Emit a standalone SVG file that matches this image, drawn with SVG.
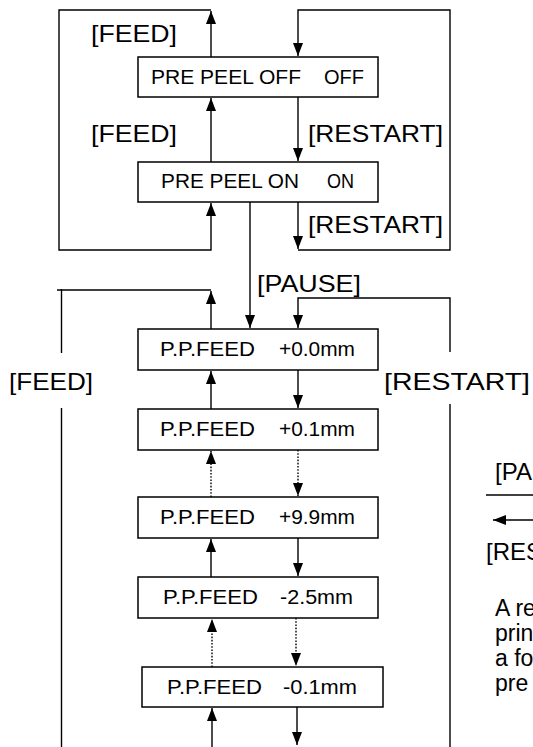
<svg xmlns="http://www.w3.org/2000/svg" width="533" height="747" viewBox="0 0 533 747">
<style>
text{font-family:"Liberation Sans",Arial,sans-serif;fill:#000}
.box{fill:#fff;stroke:#000;stroke-width:1.5}
.bt{font-size:20px}
.lb{font-size:24px}
.lg{font-size:23px}
.ln{fill:none;stroke:#000;stroke-width:1.4}
.dot{stroke-dasharray:1.6 1.6}
</style>
<defs>
<marker id="ah" markerUnits="userSpaceOnUse" markerWidth="14" markerHeight="11" refX="13" refY="5" orient="auto">
<path d="M0,0 L13,5 L0,10 z" fill="#000"/>
</marker>
</defs>
<rect width="533" height="747" fill="#fff"/>
<g id="connectors">
<path class="ln" d="M211,57 V11" marker-end="url(#ah)"/>
<path class="ln" d="M211,10 H59 V250 H211 V203" marker-end="url(#ah)"/>
<path class="ln" d="M211,162 V98" marker-end="url(#ah)"/>
<path class="ln" d="M298,97 V161" marker-end="url(#ah)"/>
<path class="ln" d="M298,202 V249" marker-end="url(#ah)"/>
<path class="ln" d="M298,250 H450 V10 H298 V56" marker-end="url(#ah)"/>
<path class="ln" d="M250,202 V328" marker-end="url(#ah)"/>
<path class="ln" d="M211,329 V291" marker-end="url(#ah)"/>
<path class="ln" d="M211,290 H57"/>
<path class="ln" d="M61.5,289 V353"/>
<path class="ln" d="M61.5,408 V747"/>
<path class="ln" d="M450,352 V298 H298 V328" marker-end="url(#ah)"/>
<path class="ln" d="M450,404 V747"/>
<path class="ln" d="M298,370 V408" marker-end="url(#ah)"/>
<path class="ln" d="M211,409 V371" marker-end="url(#ah)"/>
<path class="ln dot" d="M298,450 V496" marker-end="url(#ah)"/>
<path class="ln dot" d="M211,497 V451" marker-end="url(#ah)"/>
<path class="ln" d="M298,538 V576" marker-end="url(#ah)"/>
<path class="ln" d="M211,577 V539" marker-end="url(#ah)"/>
<path class="ln dot" d="M296,618 V666" marker-end="url(#ah)"/>
<path class="ln dot" d="M212,667 V619" marker-end="url(#ah)"/>
<path class="ln" d="M212,747 V708" marker-end="url(#ah)"/>
<path class="ln" d="M297,707 V745" marker-end="url(#ah)"/>
<path class="ln" d="M486,495 H533"/>
<path class="ln" d="M533,520 H493" marker-end="url(#ah)"/>
</g>
<g id="labels">
<text class="lb" x="91" y="42" textLength="86" lengthAdjust="spacingAndGlyphs">[FEED]</text>
<text class="lb" x="91" y="142" textLength="86" lengthAdjust="spacingAndGlyphs">[FEED]</text>
<text class="lb" x="308" y="142" textLength="135" lengthAdjust="spacingAndGlyphs">[RESTART]</text>
<text class="lb" x="308" y="233" textLength="135" lengthAdjust="spacingAndGlyphs">[RESTART]</text>
<text class="lb" x="257" y="292" textLength="104" lengthAdjust="spacingAndGlyphs">[PAUSE]</text>
<text class="lb" x="9" y="390" textLength="84" lengthAdjust="spacingAndGlyphs">[FEED]</text>
<text class="lb" x="384" y="390" textLength="146" lengthAdjust="spacingAndGlyphs">[RESTART]</text>
</g>
<g id="legend">
<text class="lb" x="495" y="480">[PA</text>
<text class="lb" x="486" y="560">[RES</text>
<text class="lg" x="495" y="616">A re</text>
<text class="lg" x="495" y="641">prin</text>
<text class="lg" x="495" y="666">a fo</text>
<text class="lg" x="495" y="691">pre</text>
</g>
<g id="n1">
<rect class="box" x="138" y="57" width="240" height="40"/>
<text class="bt" x="151" y="84" textLength="150" lengthAdjust="spacingAndGlyphs">PRE PEEL OFF</text>
<text class="bt" x="324" y="84" textLength="40" lengthAdjust="spacingAndGlyphs">OFF</text>
</g>
<g id="n2">
<rect class="box" x="138" y="162" width="240" height="40"/>
<text class="bt" x="161" y="188" textLength="138" lengthAdjust="spacingAndGlyphs">PRE PEEL ON</text>
<text class="bt" x="327" y="188" textLength="27" lengthAdjust="spacingAndGlyphs">ON</text>
</g>
<g id="n3">
<rect class="box" x="138" y="329" width="240" height="41"/>
<text class="bt" x="160" y="356" textLength="95" lengthAdjust="spacingAndGlyphs">P.P.FEED</text>
<text class="bt" x="279" y="356" textLength="76" lengthAdjust="spacingAndGlyphs">+0.0mm</text>
</g>
<g id="n4">
<rect class="box" x="138" y="409" width="240" height="41"/>
<text class="bt" x="160" y="436" textLength="95" lengthAdjust="spacingAndGlyphs">P.P.FEED</text>
<text class="bt" x="279" y="436" textLength="76" lengthAdjust="spacingAndGlyphs">+0.1mm</text>
</g>
<g id="n5">
<rect class="box" x="138" y="497" width="240" height="41"/>
<text class="bt" x="160" y="524" textLength="95" lengthAdjust="spacingAndGlyphs">P.P.FEED</text>
<text class="bt" x="279" y="524" textLength="76" lengthAdjust="spacingAndGlyphs">+9.9mm</text>
</g>
<g id="n6">
<rect class="box" x="138" y="577" width="240" height="41"/>
<text class="bt" x="163" y="604" textLength="95" lengthAdjust="spacingAndGlyphs">P.P.FEED</text>
<text class="bt" x="280" y="604" textLength="73" lengthAdjust="spacingAndGlyphs">-2.5mm</text>
</g>
<g id="n7">
<rect class="box" x="142" y="667" width="241" height="40"/>
<text class="bt" x="167" y="694" textLength="95" lengthAdjust="spacingAndGlyphs">P.P.FEED</text>
<text class="bt" x="283" y="694" textLength="74" lengthAdjust="spacingAndGlyphs">-0.1mm</text>
</g>
</svg>
